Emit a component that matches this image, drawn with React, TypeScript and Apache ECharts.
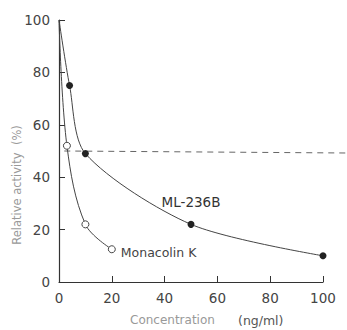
import React, { useEffect, useRef } from "react";
import * as echarts from "echarts";

const mlX = [0, 4, 10, 50, 100];
const mlY = [100, 75, 49, 22, 10];
const mkX = [0, 3, 10, 20];
const mkY = [100, 52, 22, 12.5];
const xTicks = [0, 20, 40, 60, 80, 100];
const yTicks = [0, 20, 40, 60, 80, 100];
const refLevel = 50;
const refRange = [2, 109];

const FONT = "DejaVu Sans";

export default function App() {
  const ref = useRef<HTMLDivElement>(null);
  useEffect(() => {
    if (!ref.current) return;
    const chart = echarts.init(ref.current, undefined, { renderer: "svg" });
    const mlData = mlX.map((x, i) => {
      const item: any = { value: [x, mlY[i]] };
      if (i === 0) item.symbol = "none";
      if (x === 50)
        item.label = {
          show: true,
          formatter: "ML-236B",
          position: "top",
          distance: 12,
          fontSize: 13.5,
          color: "#333",
          fontFamily: FONT,
        };
      return item;
    });
    const mkData = mkX.map((x, i) => {
      const item: any = { value: [x, mkY[i]] };
      if (i === 0) item.symbol = "none";
      if (x === 20)
        item.label = {
          show: true,
          formatter: "Monacolin K",
          position: "right",
          distance: 5,
          offset: [0, 3],
          fontSize: 12.5,
          color: "#444",
          fontFamily: FONT,
        };
      return item;
    });
    chart.setOption({
      animation: false,
      backgroundColor: "#fff",
      grid: { left: 59, right: 24, top: 20, bottom: 48 },
      xAxis: {
        type: "value",
        min: xTicks[0],
        max: xTicks[xTicks.length - 1],
        interval: 20,
        splitLine: { show: false },
        axisLine: { lineStyle: { color: "#333", width: 1.2 } },
        axisTick: { inside: true, length: 6, lineStyle: { color: "#333" } },
        axisLabel: { fontSize: 13.5, color: "#444", margin: 9, fontFamily: FONT },
      },
      yAxis: {
        type: "value",
        min: yTicks[0],
        max: yTicks[yTicks.length - 1],
        interval: 20,
        splitLine: { show: false },
        axisLine: { show: true, lineStyle: { color: "#333", width: 1.2 } },
        axisTick: { show: true, inside: true, length: 6, lineStyle: { color: "#333" } },
        axisLabel: { fontSize: 13.5, color: "#444", margin: 9, fontFamily: FONT },
      },
      series: [
        {
          type: "line",
          name: "ML-236B",
          data: mlData,
          smooth: 0.28,
          symbol: "circle",
          symbolSize: 7,
          itemStyle: { color: "#222" },
          lineStyle: { color: "#444", width: 1 },
        },
        {
          type: "line",
          name: "Monacolin K",
          data: mkData,
          smooth: 0.35,
          symbol: "circle",
          symbolSize: 7,
          itemStyle: { color: "#fff", borderColor: "#444", borderWidth: 1 },
          lineStyle: { color: "#444", width: 1 },
        },
      ],
    });
    const p1 = chart.convertToPixel({ gridIndex: 0 }, [refRange[0], refLevel]) as number[];
    const p2 = chart.convertToPixel({ gridIndex: 0 }, [refRange[1], refLevel]) as number[];
    chart.setOption({
      graphic: [
        {
          type: "line",
          silent: true,
          shape: { x1: p1[0], y1: p1[1], x2: p2[0], y2: p2[1] + 2 },
          style: { stroke: "#666", lineWidth: 1, lineDash: [6, 5] },
          z: 1,
        },
        {
          type: "text",
          x: 17,
          y: 185,
          rotation: Math.PI / 2,
          style: {
            text: "Relative activity  (%)",
            fontSize: 11.5,
            fill: "#999",
            fontFamily: FONT,
            align: "center",
            verticalAlign: "middle",
          },
        },
        {
          type: "text",
          x: 130,
          y: 320,
          style: {
            text: "Concentration",
            fontSize: 12,
            fill: "#999",
            fontFamily: FONT,
            align: "left",
            verticalAlign: "middle",
          },
        },
        {
          type: "text",
          x: 238,
          y: 320,
          style: {
            text: "(ng/ml)",
            fontSize: 12.5,
            fill: "#555",
            fontFamily: FONT,
            align: "left",
            verticalAlign: "middle",
          },
        },
      ],
    });
    return () => chart.dispose();
  }, []);
  return (
    <div
      ref={ref}
      style={{ position: "absolute", left: 0, top: 0, width: 347, height: 330 }}
    />
  );
}
